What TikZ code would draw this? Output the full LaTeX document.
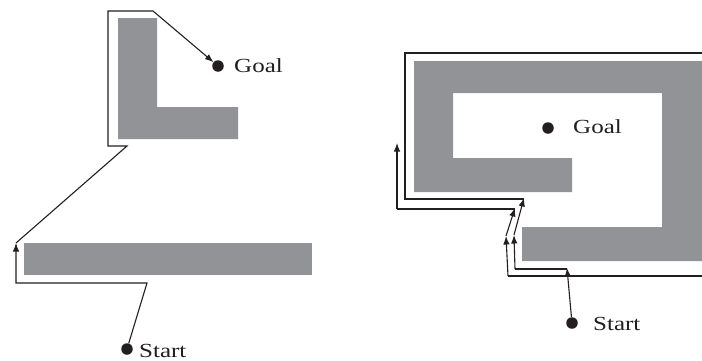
\documentclass[tikz,border=0pt]{standalone}
\usepackage{fontspec}
\setmainfont{Liberation Serif}
\usetikzlibrary{arrows.meta}
\definecolor{obst}{RGB}{146,147,151}
\definecolor{ink}{RGB}{35,31,32}
\begin{document}
\begin{tikzpicture}[x=1pt,y=-1pt,
  obstacle/.style={fill=obst,draw=none},
  route/.style={draw=ink,line width=1.1pt,line join=miter},
  tip/.style={route,-{Latex[length=8.5pt,width=6.5pt]}},
  dot/.style={circle,fill=ink,inner sep=0pt,minimum size=11.5pt},
  lbl/.style={anchor=base west,inner sep=0pt,text=ink,font=\fontsize{20}{20}\selectfont}]
\clip (0,0) rectangle (702,360);
\fill[white] (0,0) rectangle (702,360);
% ---------- left diagram ----------
\fill[obstacle] (118,18) -- (157,18) -- (157,107) -- (238,107) -- (238,139) -- (118,139) -- cycle;
\fill[obstacle] (24,243) rectangle (312,275);
\node[dot] (goalL) at (218,66) {};
\node[lbl] (goalLt) at (234,72) {\scalebox{1.25}[1]{Goal}};
\node[dot] (startL) at (127,349) {};
\node[lbl] (startLt) at (139,357) {\scalebox{1.25}[1]{Start}};
\coordinate (l1) at (147,283);
\coordinate (l2) at (16,283);
\coordinate (l3) at (16,243);
\coordinate (l4) at (127,146);
\coordinate (l5) at (108,146);
\coordinate (l6) at (108,11);
\coordinate (l7) at (153,11);
\draw[tip] (startL) -- (l1) -- (l2) -- (l3);
\draw[tip] (l3) -- (l4) -- (l5) -- (l6) -- (l7) -- (goalL);
% ---------- right diagram ----------
\fill[obstacle] (414,61) -- (702,61) -- (702,261) -- (522,261) -- (522,227) -- (662,227)
  -- (662,93) -- (453,93) -- (453,158) -- (572,158) -- (572,192) -- (414,192) -- cycle;
\node[dot] (goalR) at (548,128) {};
\node[lbl] (goalRt) at (573,133) {\scalebox{1.25}[1]{Goal}};
\node[dot] (startR) at (572,323) {};
\node[lbl] (startRt) at (593,330) {\scalebox{1.25}[1]{Start}};
\coordinate (r1) at (567,268);
\coordinate (r2) at (515,269);
\coordinate (r3) at (514,235);
\coordinate (r4) at (524,198);
\coordinate (r5) at (405,199);
\coordinate (r6) at (405,53);
\coordinate (r7) at (712,53);
\coordinate (r8) at (712,276);
\coordinate (r9) at (508,276);
\coordinate (r10) at (506,236);
\coordinate (r11) at (515,208);
\coordinate (r12) at (397,209);
\coordinate (r13) at (397,143);
\draw[tip] (startR) -- (r1);
\draw[route] (r1 |- r2) -- (r2);
\draw[tip] (r2) -- (r3);
\draw[tip] (r3) -- (r4);
\draw[route] (r4 |- r5) -- (r5) -- (r6) -- (r7) -- (r8) -- (r9);
\draw[tip] (r9) -- (r10);
\draw[tip] (r10) -- (r11);
\draw[route] (r11 |- r12) -- (r12);
\draw[tip] (r12) -- (r13);
\end{tikzpicture}
\end{document}
